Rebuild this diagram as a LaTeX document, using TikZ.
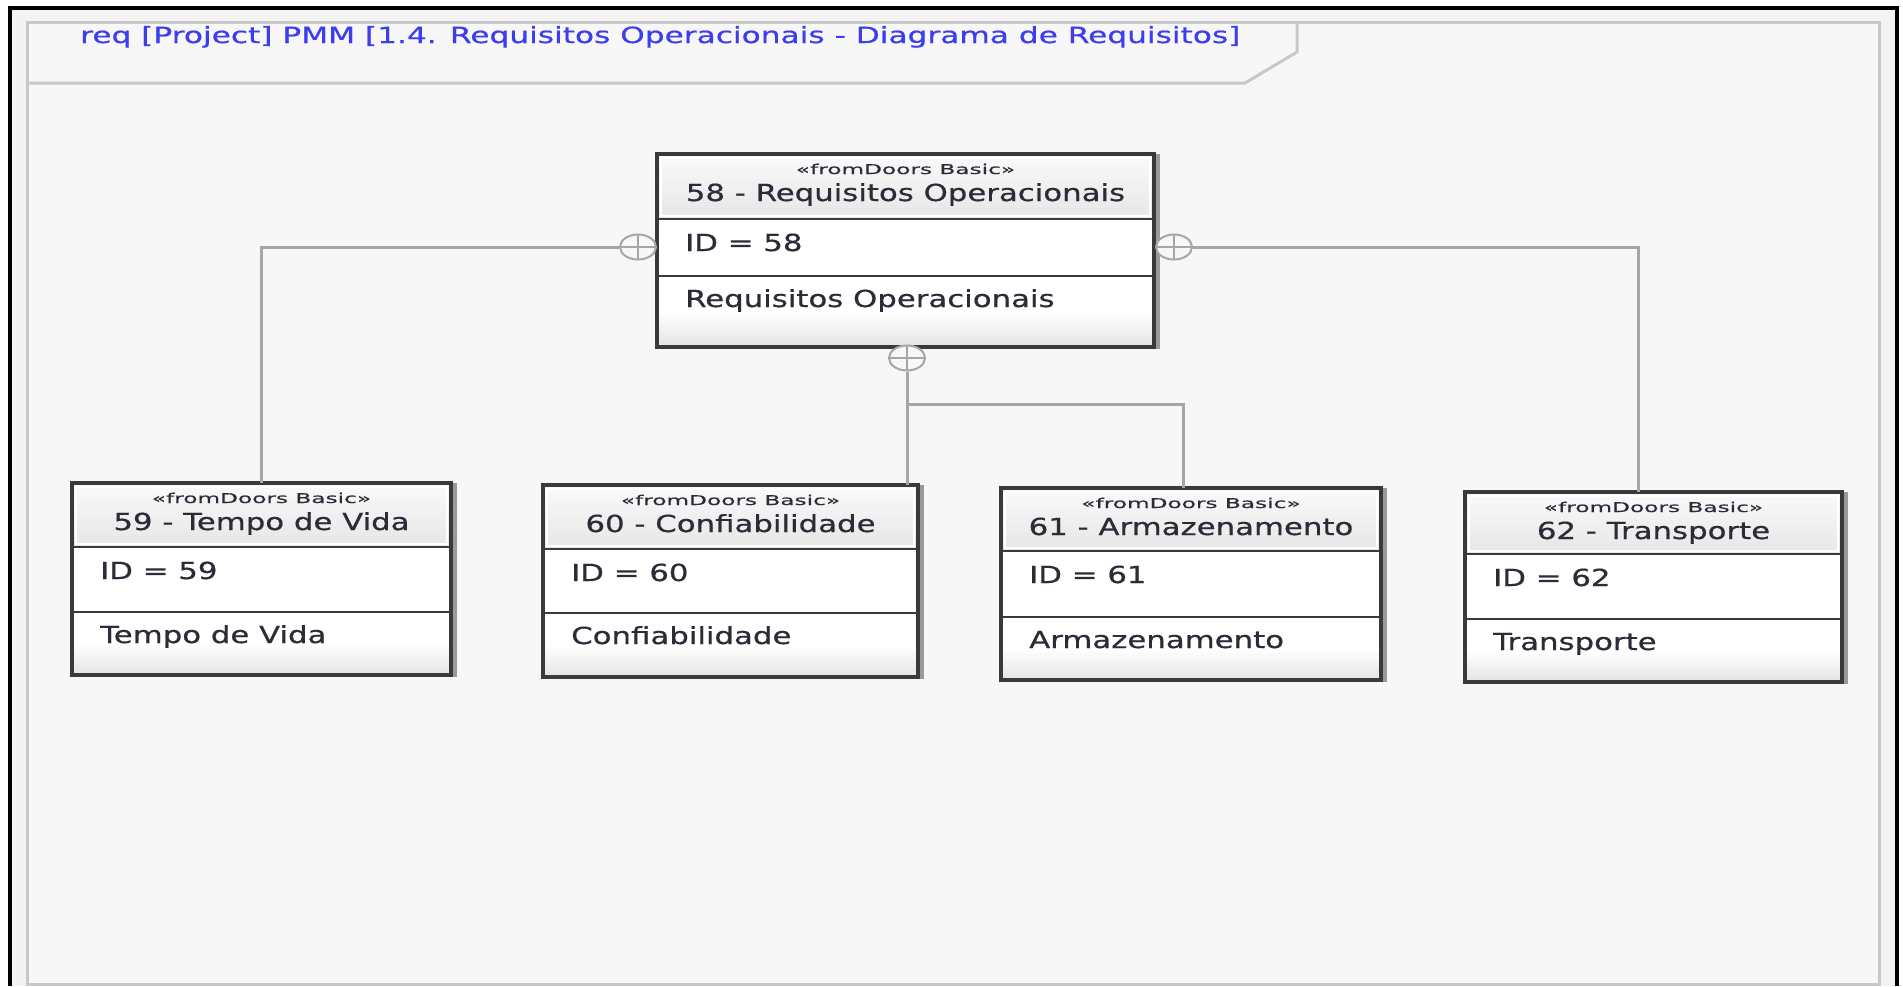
\documentclass[tikz,border=0pt]{standalone}
\usepackage{fontspec}
\usetikzlibrary{shapes.geometric}
\newfontfamily\umlfont[FakeStretch=1.31,FakeBold=0.6]{DejaVu Sans}
\newfontfamily\sterfont[FakeStretch=1.72,FakeBold=0.4]{DejaVu Sans}
\newfontfamily\ttlfont[FakeStretch=1.40,FakeBold=0.6]{DejaVu Sans}
\definecolor{canvas}{HTML}{F7F7F7}
\definecolor{outerfill}{HTML}{F3F3F3}
\definecolor{framegray}{HTML}{C8C8C8}
\definecolor{conncol}{HTML}{A6A6A6}
\definecolor{boxline}{HTML}{3A3A3A}
\definecolor{boxshadow}{HTML}{9A9A9A}
\definecolor{hdtop}{HTML}{FAFAFA}
\definecolor{hdbot}{HTML}{E6E6E6}
\definecolor{ftbot}{HTML}{E4E4E4}
\definecolor{txtcol}{HTML}{2C2C38}
\definecolor{ttlblue}{HTML}{3C3CF0}
\tikzset{
  reqframe/.style={rectangle, draw=boxline, line width=3.4, inner sep=0, outer sep=0},
  divider/.style={draw=boxline, line width=2.6},
  stereo/.style={inner sep=0, text=txtcol, font=\sterfont\fontsize{13.5}{15}\selectfont},
  nametext/.style={inner sep=0, text=txtcol, font=\umlfont\fontsize{23.5}{26}\selectfont},
  bodytext/.style={inner sep=0, text=txtcol, font=\umlfont\fontsize{23.5}{26}\selectfont},
  titletext/.style={inner sep=0, text=ttlblue, font=\ttlfont\fontsize{22.3}{25}\selectfont},
  conn/.style={draw=conncol, line width=3},
  contain/.style={ellipse, draw=conncol, line width=2, fill=canvas, minimum width=36, minimum height=25, inner sep=0,
    path picture={\draw[conncol, line width=2] (path picture bounding box.north) -- (path picture bounding box.south)
      (path picture bounding box.west) -- (path picture bounding box.east);}}
}
% #1 name, #2 left, #3 top, #4 right, #5 bottom, #6 header offset, #7 id offset, #8 number, #9 title
\newcommand\reqbox[9]{%
  \fill[boxshadow] (#4+1.5,#3) rectangle (#4+5.5,#5+1.5);
  \shade[top color=hdtop, bottom color=hdbot] (#2,#3) rectangle (#4,#3+#6);
  \draw[white, line width=1.5] (#2+4,#3+4) rectangle (#4-4,#3+#6-3);
  \fill[white] (#2,#3+#6) rectangle (#4,#3+#7);
  \fill[white] (#2,#3+#7) rectangle (#4,#5);
  \shade[top color=white, bottom color=ftbot] ({#2},{(#3+#7+#5)/2}) rectangle (#4,#5);
  \node[reqframe, anchor=north west, minimum width={(#4-#2)*1pt}, minimum height={(#5-#3)*1pt}] (#1) at (#2,#3) {};
  \draw[divider] (#2,#3+#6) -- (#4,#3+#6);
  \draw[divider] (#2,#3+#7) -- (#4,#3+#7);
  \node[stereo, anchor=base] (#1s) at ({(#2+#4)/2},#3+20) {«fromDoors Basic»};
  \node[nametext, anchor=base] (#1n) at ({(#2+#4)/2},#3+47) {#8 - #9};
  \node[bodytext, anchor=base west] (#1i) at (#2+28,#3+#6+32) {ID = #8};
  \node[bodytext, anchor=base west] (#1t) at (#2+28,#3+#7+31) {#9};
}
\begin{document}
\begin{tikzpicture}[x=1pt,y=-1pt]
\useasboundingbox (0,0) rectangle (1903,986);
\fill[white] (0,0) rectangle (1903,986);
\fill[outerfill] (10,8) rectangle (1897,986);
\draw[black, line width=4] (10,986) -- (10,8) -- (1897,8) -- (1897,986);
\draw[framegray, line width=3, fill=canvas] (27,22) rectangle (1879,984);
\draw[framegray, line width=3] (27,83) -- (1245,83) -- (1297,52) -- (1297,22);
\node[titletext, anchor=base west] (title) at (80,43) {req [Project] PMM [1.4. Requisitos Operacionais - Diagrama de Requisitos]};

\reqbox{b58}{657}{154}{1154}{347}{65}{122}{58}{Requisitos Operacionais}
\reqbox{b59}{72}{483}{451}{675}{64}{129}{59}{Tempo de Vida}
\reqbox{b60}{543}{485}{918}{677}{64}{128}{60}{Confiabilidade}
\reqbox{b61}{1001}{488}{1381}{680}{63}{129}{61}{Armazenamento}
\reqbox{b62}{1465}{492}{1842}{682}{62}{127}{62}{Transporte}

\node[contain] (cl) at (638,247) {};
\node[contain] (cr) at (1174,247) {};
\node[contain] (cb) at (907,358) {};
\coordinate (jb) at (907,404);
\draw[conn] (cl.west) -| (b59.north);
\draw[conn] (cr.east) -| ([xshift=-15pt]b62.north);
\draw[conn] (cb.south) -- (cb.south |- b60.north);
\draw[conn] (jb) -| ([xshift=-8pt]b61.north);
\end{tikzpicture}
\end{document}
